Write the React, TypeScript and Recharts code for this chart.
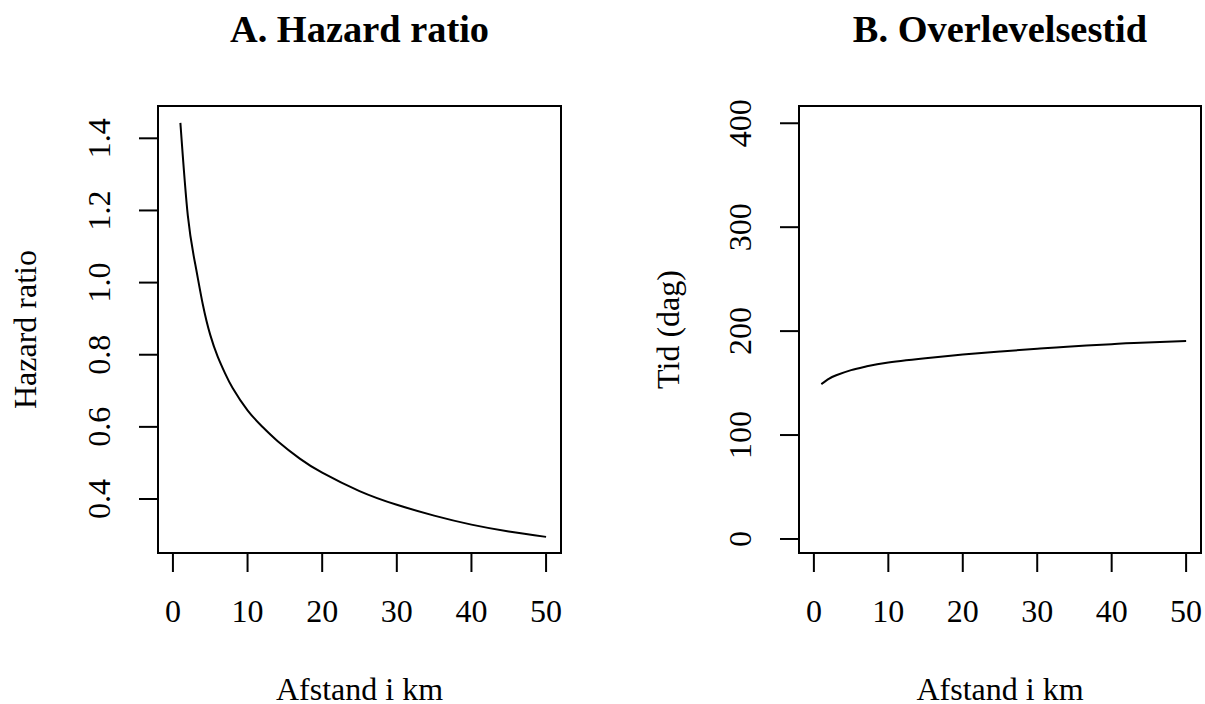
import React from 'react';
import { LineChart, Line, XAxis, YAxis, ReferenceArea, Label } from 'recharts';

// ---- data ----
const hrDistanceKm = [1, 2, 3, 4, 5, 6, 7, 8, 10, 12, 14, 17, 20, 25, 30, 35, 40, 45, 50];
const hazardRatio = [1.443, 1.185, 1.05, 0.94, 0.855, 0.795, 0.748, 0.708, 0.646, 0.6, 0.561, 0.512, 0.473, 0.422, 0.384, 0.354, 0.329, 0.31, 0.295];

const survDistanceKm = [1, 2, 3, 5, 7, 10, 16, 20, 25, 30, 34, 40, 43, 50];
const survivalDays = [149, 154, 157.5, 162.5, 166, 169.8, 174.6, 177.4, 180.4, 183, 185, 187.4, 188.5, 190.4];

const xTicks = [0, 10, 20, 30, 40, 50];
const hrTicks = [0.4, 0.6, 0.8, 1.0, 1.2, 1.4];
const dayTicks = [0, 100, 200, 300, 400];

const titleA = 'A. Hazard ratio';
const titleB = 'B. Overlevelsestid';
const xLabel = 'Afstand i km';
const yLabelA = 'Hazard ratio';
const yLabelB = 'Tid (dag)';

const xDomain: [number, number] = [-2, 52];
const hrDomain: [number, number] = [0.2503, 1.4896];
const dayDomain: [number, number] = [-13.5, 416.6];

const hrData = hrDistanceKm.map((x, i) => ({ x, v: hazardRatio[i] }));
const survData = survDistanceKm.map((x, i) => ({ x, v: survivalDays[i] }));

const FONT = '"Liberation Serif", "Times New Roman", Times, serif';
const FS = 32;

const XTick = (props: any) => {
  const { x, y, payload } = props;
  return (
    <text x={x} y={y} textAnchor="middle" fontFamily={FONT} fontSize={FS} fill="#000">
      {String(payload.value)}
    </text>
  );
};

const makeYTick = (fmt: (v: number) => string) => (props: any) => {
  const { x, y, payload } = props;
  return (
    <text
      x={x}
      y={y}
      transform={`rotate(-90, ${x}, ${y})`}
      textAnchor="middle"
      fontFamily={FONT}
      fontSize={FS}
      fill="#000"
    >
      {fmt(payload.value)}
    </text>
  );
};

const HrTick = makeYTick((v) => v.toFixed(1));
const DayTick = makeYTick((v) => String(v));

const xLabelContent = (props: any) => {
  const vb = props.viewBox || {};
  const cx = vb.x + vb.width / 2;
  const by = vb.y + 147;
  return (
    <text x={cx} y={by} textAnchor="middle" fontFamily={FONT} fontSize={FS} fill="#000">
      {xLabel}
    </text>
  );
};

const makeYLabel = (text: string, gap: number) => (props: any) => {
  const vb = props.viewBox || {};
  const px = vb.x + vb.width - gap;
  const cy = vb.y + vb.height / 2;
  return (
    <text
      x={px}
      y={cy}
      transform={`rotate(-90, ${px}, ${cy})`}
      textAnchor="middle"
      fontFamily={FONT}
      fontSize={FS}
      fill="#000"
    >
      {text}
    </text>
  );
};

const makeTitle = (text: string) => (props: any) => {
  const vb = props.viewBox || {};
  const cx = vb.x + vb.width / 2;
  const by = vb.y - 64;
  return (
    <text x={cx} y={by} textAnchor="middle" fontFamily={FONT} fontSize={38.4} fontWeight="bold" fill="#000">
      {text}
    </text>
  );
};

const tickLineStyle = { stroke: '#000', strokeWidth: 2 };

interface PanelProps {
  data: { x: number; v: number }[];
  yDomain: [number, number];
  yTicks: number[];
  YTickComp: any;
  title: string;
  yLabel: string;
  yLabelGap: number;
  width: number;
  margin: { top: number; right: number; bottom: number; left: number };
}

const Panel = ({ data, yDomain, yTicks, YTickComp, title, yLabel, yLabelGap, width, margin }: PanelProps) => (
  <LineChart width={width} height={704} data={data} margin={margin}>
    <XAxis
      dataKey="x"
      type="number"
      domain={xDomain}
      allowDataOverflow
      ticks={xTicks}
      interval={0}
      axisLine={false}
      tickLine={tickLineStyle}
      tickSize={19}
      tickMargin={50}
      height={60}
      tick={<XTick />}
    >
      <Label content={xLabelContent} />
    </XAxis>
    <YAxis
      type="number"
      domain={yDomain}
      allowDataOverflow
      ticks={yTicks}
      interval={0}
      axisLine={false}
      tickLine={tickLineStyle}
      tickSize={19}
      tickMargin={29}
      width={60}
      tick={<YTickComp />}
    >
      <Label content={makeYLabel(yLabel, yLabelGap)} />
    </YAxis>
    <ReferenceArea
      x1={xDomain[0]}
      x2={xDomain[1]}
      y1={yDomain[0]}
      y2={yDomain[1]}
      stroke="#000"
      strokeWidth={2}
      fill="none"
      fillOpacity={0}
      ifOverflow="visible"
    >
      <Label content={makeTitle(title)} />
    </ReferenceArea>
    <Line
      dataKey="v"
      type="natural"
      stroke="#000"
      strokeWidth={2}
      dot={false}
      activeDot={false}
      isAnimationActive={false}
    />
  </LineChart>
);

export default function App() {
  return (
    <div style={{ position: 'absolute', left: 0, top: 0, width: 1205, height: 704, background: '#fff' }}>
      <div style={{ position: 'absolute', left: 0, top: 0 }}>
        <Panel
          data={hrData}
          yDomain={hrDomain}
          yTicks={hrTicks}
          YTickComp={HrTick}
          title={titleA}
          yLabel={yLabelA}
          yLabelGap={122}
          width={602}
          margin={{ top: 106, right: 41, bottom: 91, left: 98 }}
        />
      </div>
      <div style={{ position: 'absolute', left: 602, top: 0 }}>
        <Panel
          data={survData}
          yDomain={dayDomain}
          yTicks={dayTicks}
          YTickComp={DayTick}
          title={titleB}
          yLabel={yLabelB}
          yLabelGap={120}
          width={603}
          margin={{ top: 106, right: 4, bottom: 91, left: 137 }}
        />
      </div>
    </div>
  );
}
